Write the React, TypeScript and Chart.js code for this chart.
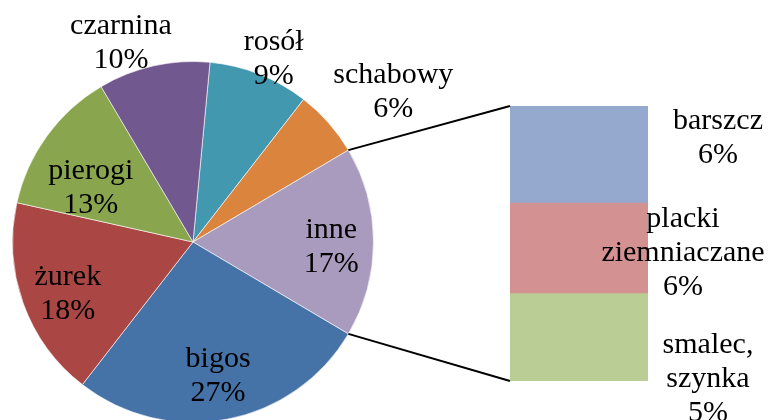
import React, { useEffect, useRef } from "react";
import { Chart, registerables } from "chart.js";

Chart.register(...registerables);

// ---- data ----
const pieLabels = ["rosół", "schabowy", "inne", "bigos", "żurek", "pierogi", "czarnina"];
const pieValues = [9, 6, 17, 27, 18, 13, 10];
const pieColors = ["#4198AF", "#DB843D", "#A99BBD", "#4572A7", "#AA4643", "#89A54E", "#71588F"];
const otherIndex = 2; // "inne" is broken down in the bar

const barLabels = ["barszcz", "placki ziemniaczane", "smalec, szynka"];
const barValues = [6, 5.6, 5.4];
const barColors = ["#95A9CF", "#D39291", "#B9CD95"];

// ---- style / layout ----
const FONT = '30px "Liberation Serif", "Times New Roman", serif';
const LINE = 34;
// pie label placement: [radius factor, angle shift in degrees]
const piePlace = [
  [1.07, 3.1],
  [1.36, 6.1],
  [0.77, 5.5],
  [0.8, 0.8],
  [0.77, -6],
  [0.62, -12],
  [1.13, -8.1],
];
// bar label placement: [x offset from bar right edge, y offset from segment centre]
const barPlace = [
  [70, -9],
  [35, 13],
  [60, 50],
];

function drawLines(ctx: CanvasRenderingContext2D, lines: string[], x: number, y: number) {
  const n = lines.length;
  lines.forEach((l, i) => ctx.fillText(l, x, y + (i - (n - 1) / 2) * LINE));
}

export default function App() {
  const pieRef = useRef<HTMLCanvasElement>(null);
  const barRef = useRef<HTMLCanvasElement>(null);

  useEffect(() => {
    const total = pieValues.reduce((a, b) => a + b, 0);
    const before = pieValues.slice(0, otherIndex).reduce((a, b) => a + b, 0);
    const rotation = 90 - ((before + pieValues[otherIndex] / 2) / total) * 360;

    const pieLabelPlugin = {
      id: "pieLabels",
      afterDatasetsDraw(chart: any) {
        const ctx = chart.ctx as CanvasRenderingContext2D;
        const meta = chart.getDatasetMeta(0);
        ctx.save();
        ctx.font = FONT;
        ctx.fillStyle = "#000";
        ctx.textAlign = "center";
        ctx.textBaseline = "alphabetic";
        meta.data.forEach((arc: any, i: number) => {
          const [f, d] = piePlace[i];
          const mid = (arc.startAngle + arc.endAngle) / 2 + (d * Math.PI) / 180;
          const r = arc.outerRadius * f;
          const x = arc.x + r * Math.cos(mid);
          const y = arc.y + r * Math.sin(mid);
          const pct = Math.round((pieValues[i] / total) * 100) + "%";
          drawLines(ctx, [pieLabels[i], pct], x, y);
        });
        ctx.restore();
      },
    };

    const pie = new Chart(pieRef.current!, {
      type: "pie",
      data: {
        labels: pieLabels,
        datasets: [
          {
            data: pieValues,
            backgroundColor: pieColors,
            borderColor: "rgba(255,255,255,0.6)",
            borderWidth: 1,
          },
        ],
      },
      options: {
        responsive: false,
        animation: false,
        events: [],
        rotation,
        layout: { padding: { left: 12, right: 394, top: 61, bottom: 61 } },
        plugins: { legend: { display: false }, tooltip: { enabled: false } },
      },
      plugins: [pieLabelPlugin],
    });

    const barTotal = barValues.reduce((a, b) => a + b, 0);
    const barOrder = barLabels.map((_, i) => i).reverse(); // bottom first

    const barPlugin = {
      id: "barExtras",
      afterDatasetsDraw(chart: any) {
        const ctx = chart.ctx as CanvasRenderingContext2D;
        // connector lines
        const arc: any = pie.getDatasetMeta(0).data[otherIndex];
        const topEl: any = chart.getDatasetMeta(barOrder.length - 1).data[0];
        const botEl: any = chart.getDatasetMeta(0).data[0];
        const left = topEl.x - topEl.width / 2;
        const R = arc.outerRadius;
        ctx.save();
        ctx.strokeStyle = "#000";
        ctx.lineWidth = 2;
        ctx.beginPath();
        ctx.moveTo(arc.x + R * Math.cos(arc.startAngle), arc.y + R * Math.sin(arc.startAngle));
        ctx.lineTo(left, Math.min(topEl.y, topEl.base));
        ctx.moveTo(arc.x + R * Math.cos(arc.endAngle), arc.y + R * Math.sin(arc.endAngle));
        ctx.lineTo(left, Math.max(botEl.y, botEl.base));
        ctx.stroke();

        // labels
        ctx.font = FONT;
        ctx.fillStyle = "#000";
        ctx.textAlign = "center";
        ctx.textBaseline = "alphabetic";
        barOrder.forEach((src, di) => {
          const el: any = chart.getDatasetMeta(di).data[0];
          const right = el.x + el.width / 2;
          const cy = (el.y + el.base) / 2;
          const [dx, dy] = barPlace[src];
          const pct = Math.round((barValues[src] / total) * 100) + "%";
          const lines = [...barLabels[src].split(" "), pct];
          drawLines(ctx, lines, right + dx, cy + dy);
        });
        ctx.restore();
      },
    };

    const bar = new Chart(barRef.current!, {
      type: "bar",
      data: {
        labels: [""],
        datasets: barOrder.map((i) => ({
          label: barLabels[i],
          data: [barValues[i]],
          backgroundColor: barColors[i],
          borderWidth: 0,
          barPercentage: 1,
          categoryPercentage: 1,
        })),
      },
      options: {
        responsive: false,
        animation: false,
        events: [],
        layout: { padding: { left: 510, right: 120, top: 106, bottom: 39 } },
        scales: {
          x: { display: false, stacked: true },
          y: { display: false, stacked: true, min: 0, max: barTotal },
        },
        plugins: { legend: { display: false }, tooltip: { enabled: false } },
      },
      plugins: [barPlugin],
    });

    return () => {
      bar.destroy();
      pie.destroy();
    };
  }, []);

  return (
    <div
      style={{
        position: "fixed",
        left: 0,
        top: 0,
        width: 768,
        height: 420,
        overflow: "hidden",
        background: "#fff",
      }}
    >
      <canvas
        ref={pieRef}
        width={768}
        height={484}
        style={{ position: "absolute", left: 0, top: 0, width: 768, height: 484, display: "block" }}
      />
      <canvas
        ref={barRef}
        width={768}
        height={420}
        style={{ position: "absolute", left: 0, top: 0, width: 768, height: 420, display: "block" }}
      />
    </div>
  );
}
